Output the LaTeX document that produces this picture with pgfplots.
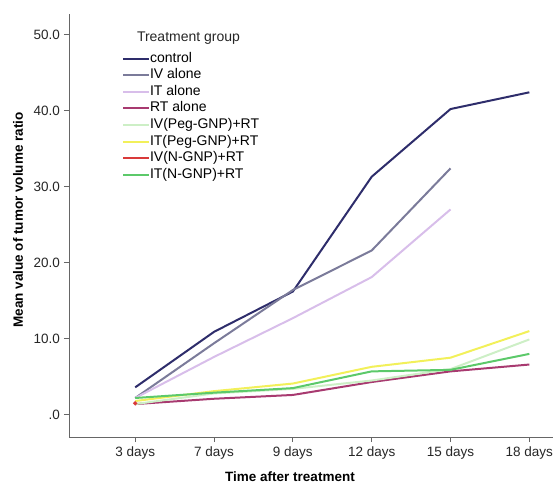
\documentclass[border=0pt]{standalone}
\usepackage{fontspec}
\setmainfont{Liberation Sans}
\usepackage{pgfplots}
\pgfplotsset{compat=1.18}

\definecolor{cCtrl}{HTML}{2E2D6B}
\definecolor{cIV}{HTML}{7B7B9A}
\definecolor{cIT}{HTML}{D8BEEA}
\definecolor{cRT}{HTML}{A83A70}
\definecolor{cIVpeg}{HTML}{CDEFC6}
\definecolor{cITpeg}{HTML}{F2F05A}
\definecolor{cIVn}{HTML}{D93A3A}
\definecolor{cITn}{HTML}{5CC96A}
\definecolor{axgray}{HTML}{666666}

\begin{document}
\begin{tikzpicture}
\begin{axis}[
  scale only axis,
  width=484pt, height=423pt,
  at={(0,0)}, anchor=south west,
  xmin=-0.84, xmax=5.30, ymin=-2.93, ymax=52.7,
  axis x line=bottom, axis y line=left,
  axis line style={-, axgray, line width=0.9pt},
  tick style={axgray, line width=0.9pt},
  tick align=outside, major tick length=5pt,
  xtick={0,1,2,3,4,5},
  xticklabels={3 days,7 days,9 days,12 days,15 days,18 days},
  ytick={0,10,20,30,40,50},
  yticklabels={.0,10.0,20.0,30.0,40.0,50.0},
  tick label style={font=\fontsize{13.5}{15}\selectfont, text=black!85},
  yticklabel style={xshift=-0.5pt},
  xticklabel style={yshift=-1pt},
  clip=false,
  legend cell align=left,
  legend style={draw=none, fill=none, at={(rel axis cs:0.103,0.915)}, anchor=north west,
    font=\fontsize{14}{16}\selectfont, row sep=3.6pt,
    nodes={inner sep=0pt, text height=10pt, text depth=3pt},
    /tikz/every even column/.append style={column sep=1pt}},
  legend image code/.code={\draw[#1, line width=2pt] (0pt,0pt) -- (26pt,0pt);},
]
\addplot[cCtrl, line width=2pt] coordinates {(0,3.6) (1,10.9) (2,16.2) (3,31.3) (4,40.2) (5,42.4)};
\addlegendentry{control}
\addplot[cIV, line width=2pt] coordinates {(0,2.2) (1,9.4) (2,16.4) (3,21.6) (4,32.4)};
\addlegendentry{IV alone}
\addplot[cIT, line width=2pt] coordinates {(0,2.2) (1,7.6) (2,12.7) (3,18.1) (4,27.0)};
\addlegendentry{IT alone}
\addplot[cRT, line width=2pt] coordinates {(0,1.4) (1,2.1) (2,2.6) (3,4.3) (4,5.7) (5,6.6)};
\addlegendentry{RT alone}
\addplot[cIVpeg, line width=2pt] coordinates {(0,1.4) (1,2.8) (2,3.4) (3,4.5) (4,6.0) (5,9.9)};
\addlegendentry{IV(Peg-GNP)+RT}
\addplot[cITpeg, line width=2pt] coordinates {(0,1.8) (1,3.1) (2,4.1) (3,6.3) (4,7.5) (5,11.0)};
\addlegendentry{IT(Peg-GNP)+RT}
\addplot[cIVn, line width=2pt, mark=*, mark size=0.9pt] coordinates {(0,1.5)};
\addlegendentry{IV(N-GNP)+RT}
\addplot[cITn, line width=2pt] coordinates {(0,2.2) (1,2.9) (2,3.5) (3,5.7) (4,5.9) (5,8.0)};
\addlegendentry{IT(N-GNP)+RT}
\end{axis}
\node[font=\fontsize{14}{16}\selectfont, text=black!85] at (119.5pt,399pt) {Treatment group};
\node[font=\bfseries\fontsize{13.5}{15}\selectfont, rotate=90] at (-51pt,217pt) {Mean value of tumor volume ratio};
\node[font=\bfseries\fontsize{13.5}{15}\selectfont] at (221pt,-40pt) {Time after treatment};
\pgfresetboundingbox
\path[use as bounding box] (-69pt,-47pt) rectangle (484pt,437pt);
\end{tikzpicture}
\end{document}
